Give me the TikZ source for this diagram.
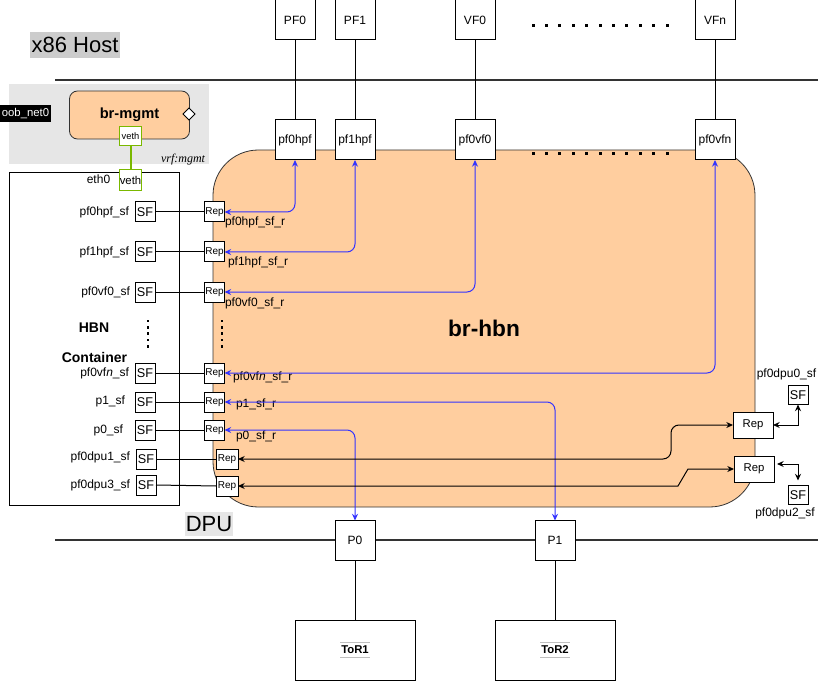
\documentclass[tikz,border=0pt]{standalone}
\usepackage{fontspec}
\setmainfont{Liberation Sans}
\newfontfamily\vrffont{Liberation Serif}
\usetikzlibrary{arrows.meta,shapes.geometric}
\definecolor{peach}{HTML}{FFCE9F}
\definecolor{bluel}{HTML}{3333FF}
\definecolor{vgreen}{HTML}{7AB800}
\definecolor{mgmtgray}{HTML}{E6E6E6}
\definecolor{labgray}{HTML}{CCCCCC}
\begin{document}
\begin{tikzpicture}[x=0.75pt,y=-0.75pt,
  every node/.style={inner sep=0pt, outer sep=0pt},
  bx/.style={draw, fill=white, line width=0.75pt, font=\fontsize{9}{10}\selectfont},
  bigbox/.style={bx, minimum width=30pt, minimum height=30pt},
  sfbox/.style={bx, minimum width=15pt, minimum height=15pt, font=\fontsize{9.5}{10}\selectfont},
  repbox/.style={bx, minimum width=15pt, minimum height=15pt, font=\fontsize{7.5}{8}\selectfont},
  repwide/.style={bx, minimum width=16.5pt, minimum height=15pt, font=\fontsize{7.5}{8}\selectfont},
  repright/.style={bx, minimum width=30pt, minimum height=19.5pt, font=\fontsize{8.5}{9}\selectfont},
  sfright/.style={bx, minimum width=15pt, minimum height=14.25pt, font=\fontsize{9.5}{10}\selectfont},
  torbox/.style={bx, minimum width=90pt, minimum height=45pt, font=\bfseries\fontsize{8.5}{9}\selectfont},
  txt/.style={font=\fontsize{9}{10}\selectfont},
  conn/.style={draw=black, line width=0.75pt},
  barr/.style={draw=bluel, line width=0.75pt, arrows={Stealth[length=5pt,width=4.5pt]-Stealth[length=5pt,width=4.5pt]}, rounded corners=6pt},
  karr/.style={draw=black, line width=0.75pt, arrows={Stealth[length=5pt,width=4.5pt]-Stealth[length=5pt,width=4.5pt]}, rounded corners=6pt},
  hline/.style={line width=1.6pt, draw=black!80},
  dotm/.style={fill=black}
]
\useasboundingbox (0,0) rectangle (818,681);

% host / dpu separators and labels
\node[fill=labgray, minimum width=67.5pt, minimum height=19.5pt, font=\fontsize{16.5}{18}\selectfont] (host) at (75,45) {x86 Host};
\draw[hline] (55,80) -- (818,80);
\draw[hline] (55,540) -- (818,540);
\node[fill=mgmtgray, minimum width=36pt, minimum height=18pt, font=\fontsize{16.5}{18}\selectfont] (dpu) at (209,524) {DPU};

% management area
\node[fill=mgmtgray, minimum width=150pt, minimum height=60pt] (mgmt) at (109,124) {};
\node[draw=black!80, fill=peach, line width=0.6pt, rounded corners=6pt, minimum width=90pt, minimum height=36pt, font=\bfseries\fontsize{11}{12}\selectfont] (brm) at (129.5,115) {br-mgmt};
\node[diamond, draw, fill=white, line width=0.6pt, minimum size=9pt] (dia) at (189,114) {};
\node[anchor=east, font=\vrffont\itshape\fontsize{9}{10}\selectfont] (vrf) at (205,160) {vrf:mgmt};
\node[fill=black, text=white, minimum width=38.25pt, minimum height=12.75pt, font=\fontsize{8.5}{9}\selectfont] (oob) at (25.5,113.5) {oob\_net0};

% br-hbn
\node[draw=black!80, fill=peach, line width=0.6pt, rounded corners=34pt, minimum width=406.5pt, minimum height=267.75pt, font=\bfseries\fontsize{17}{20}\selectfont] (hbn) at (484,328.5) {br-hbn};

% container
\node[draw, fill=white, line width=0.75pt, minimum width=127.5pt, minimum height=249pt] (cont) at (94,339) {};
\node[txt] (eth0) at (98.5,179) {eth0};
\node[font=\bfseries\fontsize{10.5}{12}\selectfont] (hbnl) at (94,328) {HBN};
\node[font=\bfseries\fontsize{10.5}{12}\selectfont] (contl) at (94.5,357) {Container};

% dots
\foreach \i in {0,...,10} {
  \fill[dotm] ({533+13.4*\i-1.5},24.5) rectangle ++(3,3);
  \fill[dotm] ({533+13.4*\i-1.5},152.5) rectangle ++(3,3);
}
\foreach \j in {0,...,4} {
  \fill[dotm] (146.8,{321+6.3*\j-1.2}) rectangle ++(2.5,2.5);
  \fill[dotm] (220.8,{321+6.3*\j-1.2}) rectangle ++(2.5,2.5);
}

% veth
\node[draw=vgreen, fill=white, line width=0.75pt, minimum width=16.5pt, minimum height=14.25pt, font=\fontsize{7}{8}\selectfont] (veth1) at (130.5,136.5) {veth};
\node[draw=vgreen, fill=white, line width=0.75pt, minimum width=16.5pt, minimum height=15.75pt, font=\fontsize{8.5}{9}\selectfont] (veth2) at (130.5,180.5) {veth};
\draw[vgreen, line width=1.5pt] (veth1) -- (veth2);

% top host boxes
\node[bigbox] (PF0) at (295,20) {PF0};
\node[bigbox] (PF1) at (355,20) {PF1};
\node[bigbox] (VF0) at (475,20) {VF0};
\node[bigbox] (VFn) at (715,20) {VFn};
\node[bigbox] (pf0hpf) at (295,140) {pf0hpf};
\node[bigbox] (pf1hpf) at (355,140) {pf1hpf};
\node[bigbox] (pf0vf0) at (475,140) {pf0vf0};
\node[bigbox] (pf0vfn) at (715,140) {pf0vfn};
\draw[conn] (PF0) -- (pf0hpf);
\draw[conn] (PF1) -- (pf1hpf);
\draw[conn] (VF0) -- (pf0vf0);
\draw[conn] (VFn) -- (pf0vfn);

% left SFs
\node[sfbox] (sf1) at (145,212) {SF};
\node[sfbox] (sf2) at (145,252) {SF};
\node[sfbox] (sf3) at (145,292) {SF};
\node[sfbox] (sf4) at (145,373) {SF};
\node[sfbox] (sf5) at (145,402) {SF};
\node[sfbox] (sf6) at (145,430) {SF};
\node[sfbox] (sf7) at (146,459) {SF};
\node[sfbox] (sf8) at (146,485) {SF};
\node[txt, anchor=east] (l1) at (129,212) {pf0hpf\_sf};
\node[txt, anchor=east] (l2) at (129,252) {pf1hpf\_sf};
\node[txt, anchor=east] (l3) at (130,292) {pf0vf0\_sf};
\node[txt, anchor=east] (l4) at (129,373) {pf0vf\textit{n}\_sf};
\node[txt, anchor=east] (l5) at (125,401) {p1\_sf};
\node[txt, anchor=east] (l6) at (123,430) {p0\_sf};
\node[txt, anchor=east] (l7) at (130,457) {pf0dpu1\_sf};
\node[txt, anchor=east] (l8) at (130,485) {pf0dpu3\_sf};

% left reps
\node[repbox] (rep1) at (214.5,212) {Rep};
\node[repbox] (rep2) at (214.5,252) {Rep};
\node[repbox] (rep3) at (214.5,292) {Rep};
\node[repbox] (rep4) at (214.5,373) {Rep};
\node[repbox] (rep5) at (214.5,402) {Rep};
\node[repbox] (rep6) at (214.5,430) {Rep};
\node[repwide] (rep7) at (227,459) {Rep};
\node[repwide] (rep8) at (227,486) {Rep};
\foreach \k in {1,...,8} { \draw[conn] (sf\k.east) -- (rep\k.west); }
\node[txt, anchor=west] (r1) at (225,222) {pf0hpf\_sf\_r};
\node[txt, anchor=west] (r2) at (228,262) {pf1hpf\_sf\_r};
\node[txt, anchor=west] (r3) at (225,303) {pf0vf0\_sf\_r};
\node[txt, anchor=west] (r4) at (233,377) {pf0vf\textit{n}\_sf\_r};
\node[txt, anchor=west] (r5) at (236,404) {p1\_sf\_r};
\node[txt, anchor=west] (r6) at (236,436) {p0\_sf\_r};

% right reps and SFs
\node[repright] (rr1) at (753,425) {Rep};
\node[repright] (rr2) at (754,469) {Rep};
\node[sfright] (sfr1) at (798,395) {SF};
\node[sfright] (sfr2) at (798,495) {SF};
\node[txt] (lr1) at (786.5,374) {pf0dpu0\_sf};
\node[txt] (lr2) at (785,513) {pf0dpu2\_sf};

% DPU ports and ToRs
\node[bigbox] (P0) at (355,540.5) {P0};
\node[bigbox] (P1) at (555,540.5) {P1};
\node[torbox] (tor1) at (355,650) {ToR1};
\node[torbox] (tor2) at (555,650) {ToR2};
\draw[conn] (P0) -- (tor1);
\draw[conn] (P1) -- (tor2);
\foreach \t in {tor1,tor2} {
  \draw[black!25, line width=1pt] ([shift={(-15,-7.5)}]\t.center) -- ([shift={(15,-7.5)}]\t.center);
  \draw[black!25, line width=1pt] ([shift={(-15,7.5)}]\t.center) -- ([shift={(15,7.5)}]\t.center);
}

% blue connectors
\draw[barr] (pf0hpf.south) |- (rep1.east);
\draw[barr] (pf1hpf.south) |- (rep2.east);
\draw[barr] (pf0vf0.south) |- (rep3.east);
\draw[barr] (pf0vfn.south) |- (rep4.east);
\draw[barr] (rep5.east) -| (P1.north);
\draw[barr] (rep6.east) -| (P0.north);

% black connectors
\draw[karr] (rep7.east) -- (671,459) -- (671,425) -- (rr1.west);
\draw[karr, rounded corners=0pt] (rep8.east) -- (678,486) -- (688,469) -- (rr2.west);
\draw[karr, rounded corners=0pt] (rr1.east) -| (sfr1.south);
\coordinate (rr2o) at ([shift={(3,-5)}]rr2.east);
\coordinate (sfr2i) at ([shift={(0,-5)}]sfr2.north);
\draw[karr, rounded corners=0pt] (rr2o) -| (sfr2i);
\end{tikzpicture}
\end{document}
